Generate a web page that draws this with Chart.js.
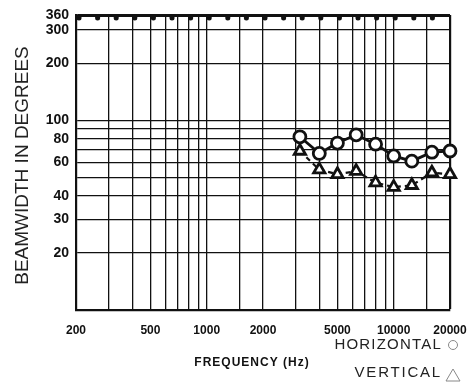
<!DOCTYPE html>
<html>
<head>
<meta charset="utf-8">
<script src="https://cdn.jsdelivr.net/npm/chart.js@4"></script>
<style>
  body { margin: 0; background: #fff; }
  #wrap { width: 472px; height: 385px; position: relative; }
</style>
</head>
<body>
<div id="wrap"><canvas id="beamwidth"></canvas></div>
<script>
const freqs = [3150, 4000, 5000, 6300, 8000, 10000, 12500, 16000, 20000];
const horizontal = [82, 67, 76, 84, 75, 65, 61, 68, 69];
const vertical = [69, 55, 52, 54, 47, 44.5, 45.5, 53, 52];

const xGrid = [200, 300, 400, 500, 600, 700, 800, 900, 1000, 1500, 2000, 3000, 4000, 5000, 6000, 7000, 8000, 9000, 10000, 15000, 20000];
const xLabels = [200, 500, 1000, 2000, 5000, 10000, 20000];
const yGrid = [20, 30, 40, 50, 60, 70, 80, 90, 100, 200, 300, 360];
const yLabels = [20, 30, 40, 60, 80, 100, 200, 300, 360];

const FONT = 'Liberation Sans, Arial, sans-serif';
const INK = '#111';

// paper decoration + titles + legend, drawn on top of the chart
const decor = {
    id: 'decor',
    afterDraw(chart) {
        const ctx = chart.ctx;
        const a = chart.chartArea;
        ctx.save();
        ctx.fillStyle = INK;
        // notches hanging from the 360 line
        for (let x = a.left + 3; x < a.right - 3; x += 18.6) {
            ctx.fillRect(x - 2.5, a.top, 5, 3);
            ctx.beginPath();
            ctx.arc(x, a.top + 3, 2.5, 0, Math.PI);
            ctx.fill();
        }

        // y title
        ctx.save();
        ctx.translate(23, (a.top + a.bottom) / 2 + 3);
        ctx.rotate(-Math.PI / 2);
        ctx.font = '19px ' + FONT;
        ctx.textAlign = 'center';
        ctx.textBaseline = 'middle';
        ctx.fillStyle = '#222';
        ctx.fillText('BEAMWIDTH IN DEGREES', 0, 0);
        ctx.restore();

        // x title
        ctx.font = 'bold 12px ' + FONT;
        ctx.letterSpacing = '1px';
        ctx.textAlign = 'center';
        ctx.textBaseline = 'middle';
        ctx.fillText('FREQUENCY (Hz)', 252, 363);

        // legend
        ctx.font = '15px ' + FONT;
        ctx.letterSpacing = '1.2px';
        ctx.textAlign = 'right';
        ctx.fillStyle = '#222';
        ctx.fillText('HORIZONTAL', 442, 345);
        ctx.letterSpacing = '1.8px';
        ctx.fillText('VERTICAL', 442, 373);
        ctx.letterSpacing = '0px';

        ctx.strokeStyle = '#888';
        ctx.lineWidth = 1;
        ctx.beginPath();
        ctx.arc(453, 345, 4.5, 0, Math.PI * 2);
        ctx.stroke();
        ctx.beginPath();
        ctx.moveTo(446, 381);
        ctx.lineTo(453, 369);
        ctx.lineTo(460, 381);
        ctx.closePath();
        ctx.stroke();
        ctx.restore();
    }
};

new Chart(document.getElementById('beamwidth'), {
    type: 'line',
    data: {
        datasets: [{
            label: 'HORIZONTAL',
            data: freqs.map((f, i) => ({ x: f, y: horizontal[i] })),
            borderColor: INK,
            borderWidth: 2.8,
            pointStyle: 'circle',
            pointRadius: 6,
            pointBorderWidth: 2.8,
            pointBackgroundColor: '#fff',
            pointBorderColor: INK,
            tension: 0,
            clip: false
        }, {
            label: 'VERTICAL',
            data: freqs.map((f, i) => ({ x: f, y: vertical[i] })),
            borderColor: INK,
            borderWidth: 2.2,
            borderDash: [5, 4],
            pointStyle: 'triangle',
            pointRadius: 6.5,
            pointBorderWidth: 2.8,
            pointBackgroundColor: '#fff',
            pointBorderColor: INK,
            tension: 0,
            clip: false
        }]
    },
    options: {
        responsive: true,
        maintainAspectRatio: false,
        animation: false,
        layout: { padding: { top: 15, right: 22, left: 0, bottom: 0 } },
        plugins: {
            legend: { display: false },
            tooltip: { enabled: false }
        },
        scales: {
            x: {
                type: 'logarithmic',
                min: 200,
                max: 20000,
                afterBuildTicks: (scale) => { scale.ticks = xGrid.map(v => ({ value: v })); },
                afterFit: (scale) => {
                    scale.height = 75;
                    scale.paddingLeft = 0;
                    scale.paddingRight = 0;
                },
                ticks: {
                    autoSkip: false,
                    maxRotation: 0,
                    padding: 13,
                    color: INK,
                    font: { family: FONT, size: 12, weight: 'bold' },
                    callback: (v) => xLabels.includes(v) ? String(v) : ''
                },
                grid: {
                    drawTicks: false,
                    color: INK,
                    lineWidth: (c) => c.tick && c.tick.value === 20000 ? 2.2 : 1.3
                },
                border: { color: INK, width: 2.2 }
            },
            y: {
                type: 'logarithmic',
                min: 10,
                max: 360,
                afterBuildTicks: (scale) => { scale.ticks = yGrid.map(v => ({ value: v })); },
                afterFit: (scale) => {
                    scale.width = 76;
                    scale.paddingTop = 0;
                    scale.paddingBottom = 0;
                },
                ticks: {
                    autoSkip: false,
                    padding: 7,
                    color: INK,
                    font: { family: FONT, size: 14, weight: 'bold' },
                    callback: (v) => yLabels.includes(v) ? String(v) : ''
                },
                grid: {
                    drawTicks: false,
                    color: INK,
                    lineWidth: (c) => c.tick && c.tick.value === 360 ? 3 : 1.3
                },
                border: { color: INK, width: 2.2 }
            }
        }
    },
    plugins: [decor]
});
</script>
</body>
</html>
